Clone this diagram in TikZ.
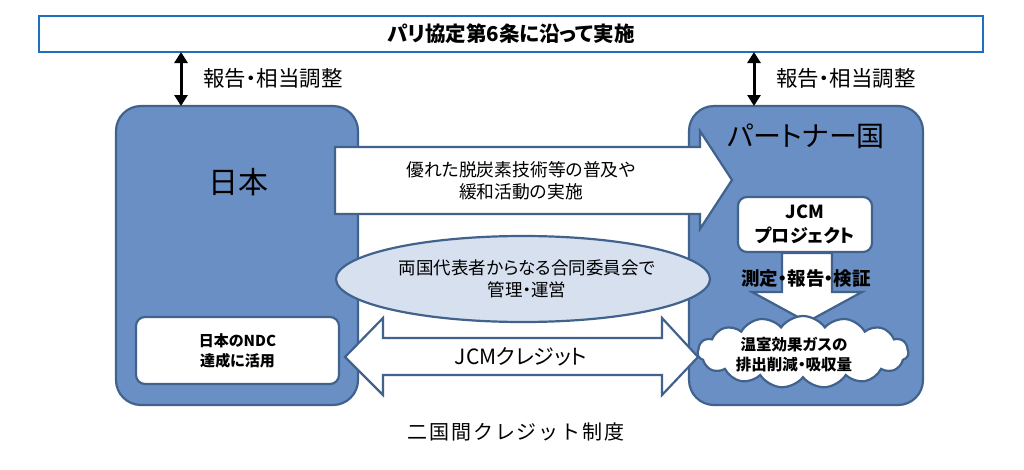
\documentclass[tikz,border=0pt]{standalone}
\usepackage{fontspec}
\setmainfont{Noto Sans CJK JP}[RawFeature=+palt]
\newfontfamily\widesp{Noto Sans CJK JP}[LetterSpace=9]
\usetikzlibrary{shapes.geometric,shapes.symbols,arrows.meta}
\definecolor{boxblue}{HTML}{6A8FC4}
\definecolor{edge}{HTML}{41628C}
\definecolor{ellfill}{HTML}{D6E0EF}
\definecolor{banner}{HTML}{1F6FBF}
\tikzset{
  bigbox/.style={draw=edge, line width=2.2pt, fill=boxblue, rounded corners=25pt},
  whitebox/.style={draw=edge, line width=2.2pt, fill=white, rounded corners=9pt},
  bigarrow/.style={draw=edge, line width=2.2pt, fill=white, line join=miter},
  vlink/.style={line width=3pt, {Triangle[width=13pt,length=11pt]}-{Triangle[width=13pt,length=11pt]}},
  note/.style={font=\fontsize{21.5}{24}\selectfont, anchor=west, inner sep=0pt},
  body/.style={font=\fontsize{17.8}{22}\selectfont, align=center, inner sep=0pt},
  boldtxt/.style={font=\bfseries\fontsize{15}{20}\selectfont, align=center, inner sep=0pt},
}
\begin{document}
\begin{tikzpicture}[x=1pt,y=-1pt]
\useasboundingbox (0,0) rectangle (1024,469);
% banner
\node[draw=banner, line width=2pt, fill=white, minimum width=944pt, minimum height=36pt, inner sep=0pt,
      font=\bfseries\fontsize{20.5}{24}\selectfont] (bn) at (511,34) {パリ協定第6条に沿って実施};
% big boxes
\node[bigbox, minimum width=242pt, minimum height=299pt] (jp) at (237,255.5) {};
\node[bigbox, minimum width=234pt, minimum height=299pt] (pt) at (806,255.5) {};
\node[font=\fontsize{30}{34}\selectfont, inner sep=0pt] (jpt) at (238,182) {日本};
\node[font=\fontsize{28}{32}\selectfont, inner sep=0pt] (ptt) at (806,136) {パートナー国};
% vertical links
\coordinate (bnL) at (181,52);
\coordinate (jpN) at (181,106);
\coordinate (bnR) at (754,52);
\coordinate (ptN) at (754,106);
\draw[vlink] (bnL) -- (jpN);
\draw[vlink] (bnR) -- (ptN);
\node[note] (lbL) at (203,78) {報告・相当調整};
\node[note] (lbR) at (776,78) {報告・相当調整};
% upper arrow
\draw[bigarrow] (335,147) -- (700,147) -- (700,131) -- (732,180) -- (700,229) -- (700,214) -- (335,214) -- cycle;
\node[body] (upt) at (521,181) {優れた脱炭素技術等の普及や\\緩和活動の実施};
% ellipse
\node[ellipse, draw=edge, line width=2.2pt, fill=ellfill, minimum width=374pt, minimum height=86pt, inner sep=0pt] (el) at (523,279) {};
\node[body, font=\fontsize{17.5}{22}\selectfont] (elt) at (527,279) {両国代表者からなる合同委員会で\\管理・運営};
% credit arrow
\draw[bigarrow] (345,357) -- (383,318) -- (383,338) -- (662,338) -- (662,318) -- (698,357) -- (662,395) -- (662,375) -- (383,375) -- (383,395) -- cycle;
\node[font=\fontsize{21}{24}\selectfont, inner sep=0pt] (crt) at (521,357) {JCMクレジット};
% NDC box
\node[whitebox, minimum width=203pt, minimum height=67pt, boldtxt] (ndc) at (237.5,350.5) {日本のNDC\\達成に活用};
% JCM project
\node[whitebox, minimum width=134pt, minimum height=55pt, font=\bfseries\fontsize{18}{24}\selectfont, align=center, inner sep=0pt] (jcm) at (805,224.5) {JCM\\プロジェクト};
% down arrow
\draw[bigarrow] (jcm.south -| 782,0) -- (jcm.south -| 832,0) -- (832,292) -- (862,292) -- (807,322) -- (752,292) -- (782,292) -- cycle;
\node[font=\bfseries\fontsize{18.5}{20}\selectfont, inner sep=0pt] (mrv) at (806,279) {測定・報告・検証};
% cloud
\node[cloud, cloud puffs=15, cloud puff arc=110, aspect=3.2, draw=edge, line width=2.2pt, fill=white,
      minimum width=211pt, minimum height=72pt, inner sep=0pt] (cl) at (803,352) {};
\node[boldtxt, font=\bfseries\fontsize{15.5}{20}\selectfont] (clt) at (794,355) {温室効果ガスの\\排出削減・吸収量};
% caption
\node[font=\widesp\fontsize{20}{24}\selectfont, inner sep=0pt] (cap) at (516,432) {二国間クレジット制度};
\end{tikzpicture}
\end{document}
